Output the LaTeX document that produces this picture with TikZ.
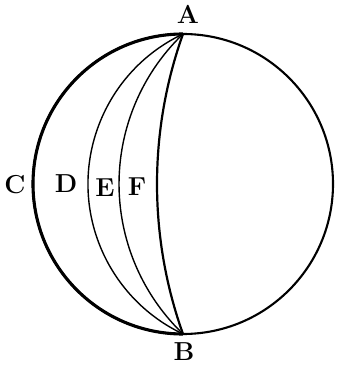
\documentclass[tikz,border=0pt]{standalone}
\usepackage{fontspec}
\begin{document}
\begin{tikzpicture}[x=1pt,y=1pt,
  lbl/.style={font=\bfseries\fontsize{26}{26}\selectfont, inner sep=0pt},
  rim/.style={line width=2.1pt},
  rimbold/.style={line width=3.1pt},
  thinarc/.style={line width=1.4pt},
  boldarc/.style={line width=2.2pt}]
\useasboundingbox (0,0) rectangle (338,365);
\coordinate (O) at (183,181);
\coordinate (A) at (183,331);
\coordinate (B) at (183,31);
% outer circle
\draw[rim] (O) circle[radius=150];
\draw[rimbold] (A) arc[start angle=90, end angle=270, radius=150];
% inner arcs from A to B (sagitta in units of 100)
\foreach \s/\st in {0.95/thinarc, 0.64/thinarc, 0.26/boldarc} {
  \pgfmathsetmacro\Rr{(1.5*1.5+\s*\s)/(2*\s)}
  \pgfmathsetmacro\ph{asin(1.5/\Rr)}
  \draw[\st] (A) arc[start angle=180-\ph, end angle=180+\ph, radius=\Rr*100];
}
% labels
\node[lbl] (lA) at (188,351) {A};
\node[lbl] (lB) at (184,13) {B};
\node[lbl] (lC) at (15,180) {C};
\node[lbl] (lD) at (66,181) {D};
\node[lbl] (lE) at (105,177) {E};
\node[lbl] (lF) at (137,178) {F};
\end{tikzpicture}
\end{document}
